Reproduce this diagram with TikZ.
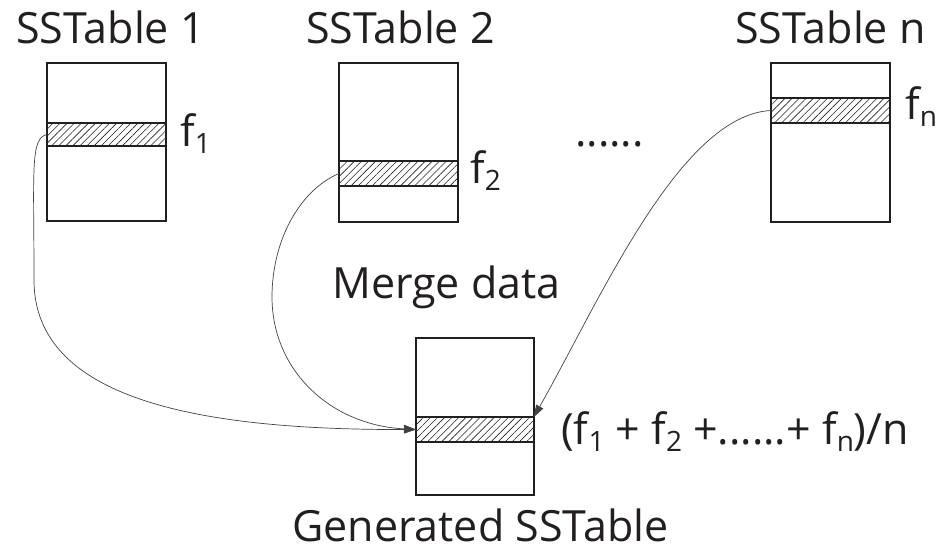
\documentclass[tikz,border=0pt]{standalone}
\usepackage{fontspec}
\setmainfont{Open Sans}
\usetikzlibrary{patterns.meta,arrows.meta}
\newcommand\sbs[1]{\raisebox{-0.17em}{\fontsize{28}{30}\selectfont #1}}
\definecolor{ink}{HTML}{231F20}
\begin{document}
\begin{tikzpicture}[x=1pt,y=-1pt,
  tbl/.style={draw=ink, line width=2.5pt, minimum width=119pt, inner sep=0pt, outer sep=0pt},
  band/.style={draw=ink, line width=2.5pt, minimum width=119pt, inner sep=0pt, outer sep=0pt,
    pattern={Lines[angle=45,distance=5pt,line width=0.6pt]}, pattern color=ink},
  lbl/.style={anchor=base west, inner sep=0pt, text=ink, font=\fontsize{43}{50}\selectfont},
  conn/.style={draw=ink!85, line width=0.7pt, -{Triangle[length=12pt,width=8pt]}}]
\useasboundingbox (0,0) rectangle (940,551);
% tables
\node[tbl, minimum height=158pt] (t1) at (106.5,142) {};
\node[band, minimum height=23pt] (b1) at (106.5,134.5) {};
\node[tbl, minimum height=159pt] (t2) at (398.5,142.5) {};
\node[band, minimum height=25pt] (b2) at (398.5,173.5) {};
\node[tbl, minimum height=159pt] (tn) at (830.5,142.5) {};
\node[band, minimum height=25pt] (bn) at (830.5,110.5) {};
\node[tbl, minimum height=157pt, minimum width=118pt] (gen) at (475,416.5) {};
\node[band, minimum height=25pt, minimum width=118pt] (gbb) at (475,429.5) {};
% labels
\node[lbl] (l1) at (16,44) {SSTable 1};
\node[lbl] (l2) at (306,44) {SSTable 2};
\node[lbl] (ln) at (735,44) {SSTable n};
\node[lbl] (f1) at (180,146) {f\sbs{1}};
\node[lbl] (f2) at (470,183) {f\sbs{2}};
\node[lbl] (fn) at (905,119) {f\sbs{n}};
\node[lbl] (dots) at (575,146) {......};
\node[lbl] (merge) at (332,298) {Merge data};
\node[lbl] (avg) at (561,444) {(f\sbs{1} + f\sbs{2} +......+ f\sbs{n})/n};
\node[lbl] (gl) at (292,541) {Generated SSTable};
% connectors
\draw[conn] (b1.west) .. controls (30,138) and (34,170) .. (34,280)
  .. controls (34,400) and (200,430) .. (gbb.west);
\draw[conn] (b2.west) .. controls (300,190) and (272,240) .. (272,297)
  .. controls (272,370) and (330,425) .. (gbb.west);
\draw[conn] (bn.west) .. controls (680,115) and (600,300) .. (gbb.12);
\end{tikzpicture}
\end{document}
